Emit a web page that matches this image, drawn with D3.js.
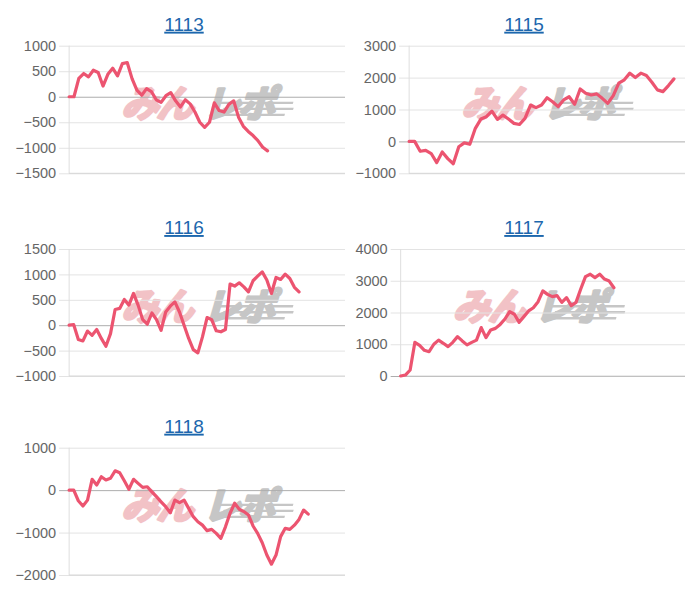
<!DOCTYPE html>
<html><head><meta charset="utf-8">
<script src="https://cdn.jsdelivr.net/npm/d3@7"></script>
<style>
html,body{margin:0;padding:0;background:#fff;}
svg{display:block;}
</style></head>
<body>
<svg id="chart" width="700" height="600"></svg>
<script>
// ---- data ----
const titles = ["1113", "1115", "1116", "1117", "1118"];
const s1113 = [0,0,360,455,390,520,475,210,440,560,410,650,670,355,130,30,160,100,-60,-110,20,80,-80,-200,-60,-140,-300,-500,-600,-500,-120,-270,-300,-150,-80,-400,-580,-680,-760,-860,-990,-1060];
const s1115 = [0,0,-310,-280,-380,-665,-330,-540,-700,-170,-45,-90,410,700,775,950,690,825,700,565,530,720,1140,1060,1140,1370,1245,1090,1300,1400,1165,1645,1510,1455,1490,1350,1195,1435,1825,1930,2140,2000,2140,2065,1855,1615,1560,1750,1960];
const s1116 = [0,10,-280,-310,-115,-200,-85,-260,-415,-165,310,330,505,395,625,395,110,20,240,110,-100,260,375,460,260,0,-260,-480,-545,-230,150,110,-110,-130,-85,810,770,835,755,655,875,965,1050,890,625,940,900,1005,920,745,655];
const s1117 = [0,30,190,1060,965,810,765,1000,1130,1030,925,1060,1240,1105,980,1060,1130,1525,1210,1450,1500,1625,1795,2030,1945,1690,1870,2050,2150,2340,2680,2570,2500,2530,2320,2470,2215,2320,2740,3130,3205,3100,3205,3055,2990,2780];
const s1118 = [0,0,-250,-375,-235,255,120,315,240,280,455,410,220,20,255,160,65,80,-40,-155,-275,-390,-535,-235,-295,-235,-430,-625,-745,-825,-955,-925,-1020,-1135,-865,-545,-310,-450,-505,-585,-845,-1020,-1240,-1530,-1745,-1530,-1095,-900,-925,-825,-690,-470,-565];
const series = [s1113, s1115, s1116, s1117, s1118];
const ticks1113 = [1000, 500, 0, -500, -1000, -1500];
const ticks1115 = [3000, 2000, 1000, 0, -1000];
const ticks1116 = [1500, 1000, 500, 0, -500, -1000];
const ticks1117 = [4000, 3000, 2000, 1000, 0];
const ticks1118 = [1000, 0, -1000, -2000];
const yTicks = [ticks1113, ticks1115, ticks1116, ticks1117, ticks1118];
// number of x slots (labels) on each chart's category axis
const xSlots = [58, 51, 61, 61, 61];

// ---- layout ----
const rowTop = [45.7, 249, 447.7];
const rowBottom = [173.3, 376, 575];
const colLabelStart = [15.4, 355.4];
const colRight = [345, 685];
const colTitleX = [184, 524];
const lineColor = "#ec5470";
const font = "'Liberation Sans', Arial, sans-serif";

const svg = d3.select("#chart");

function watermark(g, x, y) {
  const w = g.append("g").attr("transform", `translate(${x},${y}) skewX(-16)`).attr("opacity", 0.8);
  // speed lines
  const lines = [[-3, 92, 168], [3, 100, 170], [9, 96, 163]];
  lines.forEach(([dy, x1, x2]) => {
    w.append("rect").attr("x", x1).attr("y", -12 + dy).attr("width", x2 - x1).attr("height", 2.4).attr("fill", "#b8b8b8");
  });
  w.append("text").attr("x", 0).attr("y", 0)
    .attr("font-family", "'Noto Sans CJK JP', sans-serif").attr("font-weight", 700)
    .attr("font-size", 37).attr("fill", "#efb4b9").attr("stroke", "#efb4b9").attr("stroke-width", 3)
    .attr("stroke-linejoin", "round").attr("letter-spacing", -2).text("みん");
  w.append("text").attr("x", 82).attr("y", 0)
    .attr("font-family", "'Noto Sans CJK JP', sans-serif").attr("font-weight", 700)
    .attr("font-size", 37).attr("fill", "#b8b8b8").attr("stroke", "#b8b8b8").attr("stroke-width", 3)
    .attr("stroke-linejoin", "round").attr("letter-spacing", -2).text("レポ");
}

titles.forEach((title, i) => {
  const col = i % 2, row = Math.floor(i / 2);
  const top = rowTop[row], bottom = rowBottom[row], right = colRight[col];
  const ticks = yTicks[i];
  const g = svg.append("g");

  // title
  g.append("text").attr("x", colTitleX[col]).attr("y", top - 15)
    .attr("text-anchor", "middle").attr("font-family", font).attr("font-size", 19)
    .attr("fill", "#1c67ad").attr("text-decoration", "underline").text(title);

  // measure labels to place the axis
  const tmp = g.append("g").attr("font-family", font).attr("font-size", 14.5);
  let maxW = 0;
  ticks.forEach(t => {
    const tx = tmp.append("text").text(d3.format("d")(t));
    maxW = Math.max(maxW, tx.node().getComputedTextLength());
  });
  tmp.remove();
  const left = colLabelStart[col] + maxW + 13;

  const y = d3.scaleLinear().domain([d3.min(ticks), d3.max(ticks)]).range([bottom, top]);
  const x = d3.scaleLinear().domain([0, xSlots[i] - 1]).range([left, right]);

  // watermark
  watermark(g, left + 52, top + 71);

  // y axis with gridlines
  const axis = d3.axisLeft(y).tickValues(ticks).tickFormat(d3.format("d"))
    .tickSize(-(right - left + 10)).tickPadding(3);
  const ag = g.append("g").attr("transform", `translate(${left - 10},0)`).call(axis);
  ag.select(".domain").remove();
  ag.selectAll(".tick line").attr("x1", 0).attr("x2", right - left + 10)
    .attr("stroke", d => d === 0 ? "#adadad" : "#e3e3e3").attr("stroke-width", 1);
  ag.selectAll(".tick text").attr("font-family", font).attr("font-size", 14.5)
    .attr("fill", "#666").attr("x", -3);
  // left axis line
  g.append("line").attr("x1", left).attr("x2", left).attr("y1", top).attr("y2", bottom + 0.5)
    .attr("stroke", "#dedede").attr("stroke-width", 1);
  // bottom border
  g.append("line").attr("x1", left).attr("x2", right).attr("y1", bottom).attr("y2", bottom)
    .attr("stroke", "#d6d6d6").attr("stroke-width", 1);

  // line
  const line = d3.line().x((d, k) => x(k)).y(d => y(d));
  g.append("path").datum(series[i]).attr("d", line).attr("fill", "none")
    .attr("stroke", lineColor).attr("stroke-width", 3.2)
    .attr("stroke-linejoin", "round").attr("stroke-linecap", "round");
});
</script>
</body></html>
